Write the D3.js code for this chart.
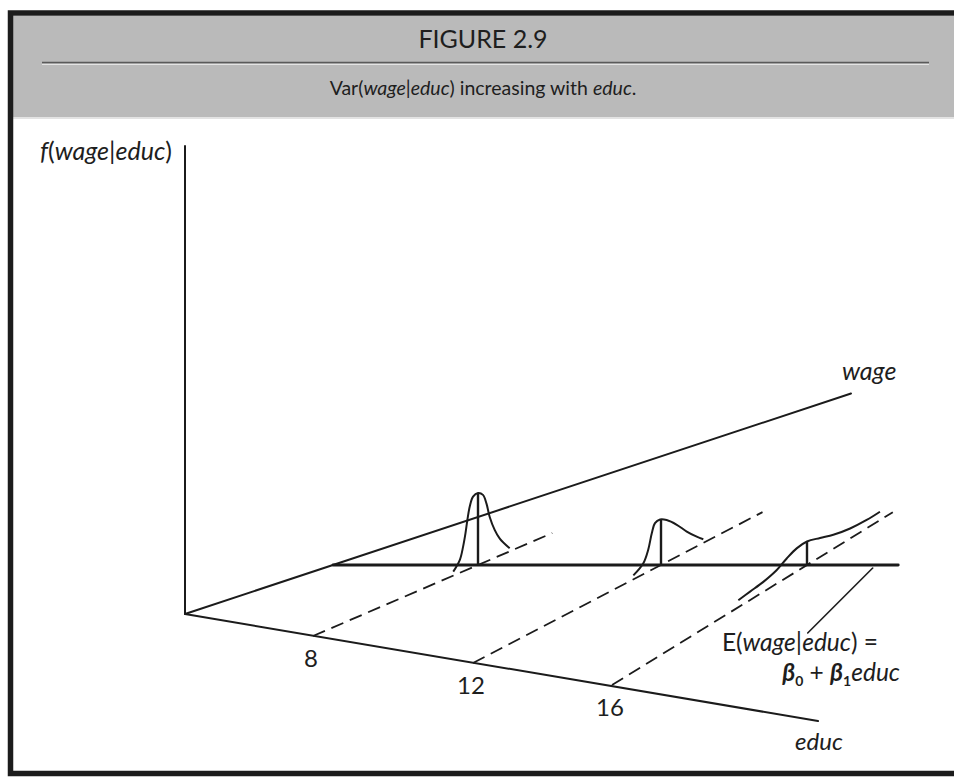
<!DOCTYPE html>
<html>
<head>
<meta charset="utf-8">
<script src="https://cdn.jsdelivr.net/npm/d3@7/dist/d3.min.js"></script>
<style>
	body { margin: 0; background: #fff; }
	text { font-family: Lato, "Open Sans", sans-serif; fill: #1e1e1e; }
	.it { font-style: italic; }
</style>
</head>
<body>
<div class="wrapper"></div>
<script>

// ---------------- data ---------------- //

var educLevels = [8, 12, 16];
var educTicks = ["8", "12", "16"];

// how far each dashed guide reaches, in wage units (cond. mean = 100)
var dashReach = [145, 154, 144];

// f(wage|educ) drawn as [wage offset from the mean, density]
var densEduc8 = [[-15, 0.04], [-11, 0.13], [-9, 0.25], [-7.6, 0.37], [-6.4, 0.50], [-5, 0.62],
	[-3, 0.705], [0, 0.72], [3, 0.68], [5.1, 0.58], [7.1, 0.43], [10.1, 0.28], [13.2, 0.17], [19.2, 0.03]];
var densEduc12 = [[-14.7, 0.04], [-9.4, 0.11], [-6.8, 0.22], [-4.9, 0.365], [-3.2, 0.45], [-0.5, 0.46],
	[3, 0.42], [8.4, 0.32], [13.7, 0.2], [19, 0.097], [22.5, 0.037]];
var densEduc16 = [[-35.2, 0.07], [-29.2, 0.084], [-22.4, 0.10], [-15.5, 0.136], [-10.4, 0.19], [-5.3, 0.23],
	[0, 0.235], [6.7, 0.19], [13.5, 0.14], [22.1, 0.10], [30.6, 0.083], [37.4, 0.084]];
var densities = [densEduc8, densEduc12, densEduc16];

var educMax = 22,
	wageMax = 450,
	fMax = 4.68,
	eLineEnd = 18.5,
	leaderAt = 17.8;

// ---------------- scales (oblique, hand-drawn perspective) ---------------- //

var W = 954, H = 777,
	E_LINE_Y = 565;

var educX = d3.scaleLinear().domain([0, 8, 12, 16, 22]).range([185, 313, 473, 612, 818]),
	educY = d3.scaleLinear().domain([0, 8, 12, 16, 22]).range([614, 636, 663, 685, 721]),
	meanX = d3.scaleLinear().domain([0, 8, 12, 16]).range([333, 478, 661, 807]),
	wageS = d3.scaleLinear().domain([0, 100]).range([0, 1]),
	fS = d3.scaleLinear().domain([0, 1]).range([0, 100]);

// point at (educ, wage, f) -> screen
function proj(e, u, f) {
	var tx = educX(e), ty = educY(e),
		mx = meanX(e), my = E_LINE_Y,
		k = wageS(u);
	return [tx + (mx - tx) * k, ty + (my - ty) * k - fS(f || 0)];
}

var svg = d3.select(".wrapper")
	.append("svg")
		.attr("width", W)
		.attr("height", H);

// ---------------- frame + header ---------------- //

svg.append("rect")
	.attr("x", 13).attr("y", 16)
	.attr("width", W - 13).attr("height", 101)
	.attr("fill", "#bababa");

svg.append("line")
	.attr("x1", 13).attr("x2", W)
	.attr("y1", 118).attr("y2", 118)
	.attr("stroke", "#dadada").attr("stroke-width", 1.5);

svg.append("line")
	.attr("x1", 42).attr("x2", 929)
	.attr("y1", 62.5).attr("y2", 62.5)
	.attr("stroke", "#5a5a5a").attr("stroke-width", 1.5);
svg.append("line")
	.attr("x1", 42).attr("x2", 929)
	.attr("y1", 64.5).attr("y2", 64.5)
	.attr("stroke", "#e4e4e4").attr("stroke-width", 1);

svg.append("path")
	.attr("d", "M" + W + ",13 H10.5 V773.5 H" + W)
	.attr("fill", "none")
	.attr("stroke", "#1c1c1c")
	.attr("stroke-width", 5.5);

svg.append("text")
	.attr("x", 483).attr("y", 48)
	.attr("text-anchor", "middle")
	.style("font-size", "25px")
	.text("FIGURE 2.9");

var sub = svg.append("text")
	.attr("x", 483).attr("y", 95)
	.attr("text-anchor", "middle")
	.style("font-size", "19.5px");
sub.append("tspan").text("Var(");
sub.append("tspan").attr("class", "it").text("wage");
sub.append("tspan").text("|");
sub.append("tspan").attr("class", "it").text("educ");
sub.append("tspan").text(") increasing with ");
sub.append("tspan").attr("class", "it").text("educ");
sub.append("tspan").text(".");

// ---------------- axes ---------------- //

var ink = "#1b1b1b";
var plot = svg.append("g").attr("class", "plot");

function seg(p, q, w, dash) {
	var l = plot.append("line")
		.attr("x1", p[0]).attr("y1", p[1])
		.attr("x2", q[0]).attr("y2", q[1])
		.attr("stroke", ink)
		.attr("stroke-width", w)
		.attr("stroke-linecap", "round");
	if (dash) l.attr("stroke-dasharray", dash).attr("stroke-linecap", "butt");
	return l;
}

// dashed guides from each educ tick towards wage
plot.selectAll(".guide")
	.data(educLevels)
	.enter()
	.append("line")
		.attr("class", "guide")
		.attr("x1", function(d) {return proj(d, 0)[0];})
		.attr("y1", function(d) {return proj(d, 0)[1];})
		.attr("x2", function(d, i) {return proj(d, dashReach[i])[0];})
		.attr("y2", function(d, i) {return proj(d, dashReach[i])[1];})
		.attr("stroke", ink)
		.attr("stroke-width", 1.8)
		.attr("stroke-dasharray", "13,7");

seg(proj(0, 0), [educX(0), educY(0) - fS(fMax)], 2);  // f axis
seg(proj(0, 0), proj(0, wageMax), 2);                   // wage axis
seg(proj(0, 0), proj(educMax, 0), 2);                   // educ axis

// E(wage|educ) line
seg([meanX(0), E_LINE_Y], [meanX(eLineEnd), E_LINE_Y], 2.8);

// leader to the label
seg([meanX(leaderAt), E_LINE_Y + 3], [meanX(leaderAt) - 65, E_LINE_Y + 68], 1.6);

// ---------------- densities ---------------- //

educLevels.forEach(function(e, i) {
	var line = d3.line()
		.x(function(d) {return proj(e, 100 + d[0], d[1])[0];})
		.y(function(d) {return proj(e, 100 + d[0], d[1])[1];})
		.curve(d3.curveCatmullRom);

	plot.append("path")
		.datum(densities[i])
		.attr("d", line)
		.attr("fill", "none")
		.attr("stroke", ink)
		.attr("stroke-width", 2)
		.attr("stroke-linejoin", "round");

	var top = densities[i].filter(function(d) {return d[0] === 0;})[0] ||
		densities[i].reduce(function(a, b) {return Math.abs(b[0]) < Math.abs(a[0]) ? b : a;});
	seg(proj(e, 100, 0), proj(e, 100, top[1]), 2.4).attr("stroke-linecap", "butt");
});

// ---------------- labels ---------------- //

plot.selectAll(".tick")
	.data(educLevels)
	.enter()
	.append("text")
		.attr("class", "tick")
		.attr("x", function(d) {return educX(d) - 2;})
		.attr("y", function(d) {return educY(d) + 31;})
		.attr("text-anchor", "middle")
		.style("font-size", "24px")
		.text(function(d, i) {return educTicks[i];});

var fl = plot.append("text")
	.attr("x", 40).attr("y", 160)
	.style("font-size", "25px");
fl.append("tspan").attr("class", "it").text("f");
fl.append("tspan").text("(");
fl.append("tspan").attr("class", "it").text("wage|educ");
fl.append("tspan").text(")");

plot.append("text")
	.attr("class", "it")
	.attr("x", proj(0, wageMax)[0] - 9)
	.attr("y", proj(0, wageMax)[1] - 14)
	.style("font-size", "25px")
	.text("wage");

plot.append("text")
	.attr("class", "it")
	.attr("x", proj(educMax, 0)[0] - 23)
	.attr("y", proj(educMax, 0)[1] + 29)
	.style("font-size", "24px")
	.text("educ");

var el = plot.append("text")
	.attr("x", 878).attr("y", 651)
	.attr("text-anchor", "end")
	.style("font-size", "24.5px");
el.append("tspan").text("E(");
el.append("tspan").attr("class", "it").text("wage|educ");
el.append("tspan").text(") =");

var bl = plot.append("text")
	.attr("x", 900).attr("y", 681)
	.attr("text-anchor", "end")
	.style("font-size", "24.5px");
bl.append("tspan").attr("class", "it").style("font-weight", "bold").text("β");
bl.append("tspan").attr("dy", 5).style("font-size", "14px").style("font-weight", "bold").text("0");
bl.append("tspan").attr("dy", -5).text(" + ");
bl.append("tspan").attr("class", "it").style("font-weight", "bold").text("β");
bl.append("tspan").attr("dy", 5).style("font-size", "14px").style("font-weight", "bold").text("1");
bl.append("tspan").attr("dy", -5).attr("class", "it").text("educ");

</script>
</body>
</html>
